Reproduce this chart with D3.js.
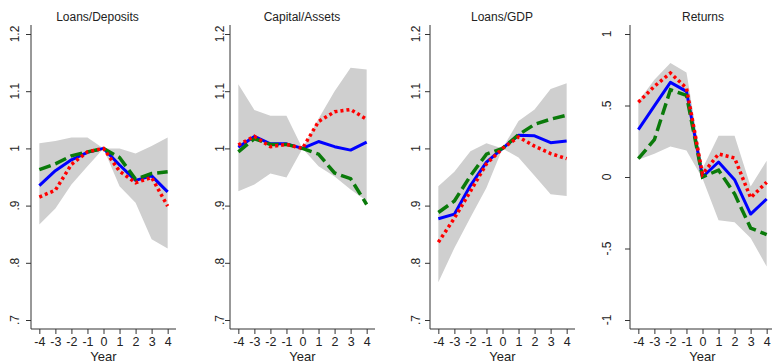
<!DOCTYPE html>
<html>
<head>
<meta charset="utf-8">
<script src="https://cdn.jsdelivr.net/npm/d3@7"></script>
<style>
  html, body { margin: 0; padding: 0; background: #fff; }
  svg { display: block; font-family: "Liberation Sans", Arial, sans-serif; }
</style>
</head>
<body>
<svg id="chart" width="772" height="364"></svg>
<script>
// Event-time years
const years = [-4, -3, -2, -1, 0, 1, 2, 3, 4];

// Panel titles and y tick labels
const titles = ["Loans/Deposits", "Capital/Assets", "Loans/GDP", "Returns"];
const ratioTicks = [0.7, 0.8, 0.9, 1.0, 1.1, 1.2];
const ratioTickLabels = [".7", ".8", ".9", "1", "1.1", "1.2"];
const returnTicks = [-1, -0.5, 0, 0.5, 1];
const returnTickLabels = ["-1", "-.5", "0", ".5", "1"];

// Loans/Deposits
const ldSolid  = [0.935, 0.961, 0.980, 0.993, 1.000, 0.971, 0.944, 0.952, 0.924];
const ldDash   = [0.963, 0.973, 0.987, 0.994, 1.000, 0.984, 0.946, 0.956, 0.959];
const ldDot    = [0.915, 0.927, 0.972, 0.994, 1.000, 0.960, 0.940, 0.949, 0.899];
const ldUpper  = [1.009, 1.013, 1.019, 1.019, 1.000, 1.000, 0.991, 1.004, 1.019];
const ldLower  = [0.867, 0.895, 0.937, 0.969, 1.000, 0.934, 0.905, 0.841, 0.825];

// Capital/Assets
const caSolid  = [1.002, 1.021, 1.008, 1.008, 1.000, 1.012, 1.003, 0.997, 1.011];
const caDash   = [0.994, 1.017, 1.007, 1.007, 1.000, 0.990, 0.957, 0.947, 0.902];
const caDot    = [1.006, 1.021, 1.003, 1.007, 1.000, 1.047, 1.064, 1.068, 1.051];
const caUpper  = [1.112, 1.067, 1.057, 1.057, 1.000, 1.052, 1.100, 1.141, 1.138];
const caLower  = [0.925, 0.937, 0.956, 0.949, 1.000, 0.969, 0.951, 0.928, 0.908];

// Loans/GDP
const lgSolid  = [0.877, 0.885, 0.935, 0.976, 1.000, 1.023, 1.022, 1.010, 1.013];
const lgDash   = [0.888, 0.908, 0.952, 0.990, 1.000, 1.024, 1.042, 1.051, 1.058];
const lgDot    = [0.836, 0.878, 0.925, 0.973, 1.000, 1.020, 1.004, 0.991, 0.982];
const lgUpper  = [0.934, 0.959, 0.995, 1.009, 1.000, 1.048, 1.068, 1.104, 1.114];
const lgLower  = [0.766, 0.826, 0.879, 0.931, 1.000, 0.984, 0.952, 0.920, 0.917];

// Returns
const rtSolid  = [0.331, 0.497, 0.662, 0.599, 0.000, 0.105, -0.019, -0.259, -0.154];
const rtDash   = [0.128, 0.261, 0.610, 0.571, 0.000, 0.048, -0.118, -0.357, -0.403];
const rtDot    = [0.523, 0.634, 0.727, 0.622, 0.020, 0.161, 0.133, -0.145, -0.036];
const rtUpper  = [0.530, 0.680, 0.797, 0.731, 0.060, 0.289, 0.289, -0.066, 0.114];
const rtLower  = [0.121, 0.163, 0.214, 0.186, -0.010, -0.303, -0.317, -0.427, -0.625];

const panelsData = [
  { title: titles[0], solid: ldSolid, dash: ldDash, dot: ldDot, upper: ldUpper, lower: ldLower,
    ticks: ratioTicks, tickLabels: ratioTickLabels, domain: [0.7, 1.2] },
  { title: titles[1], solid: caSolid, dash: caDash, dot: caDot, upper: caUpper, lower: caLower,
    ticks: ratioTicks, tickLabels: ratioTickLabels, domain: [0.7, 1.2] },
  { title: titles[2], solid: lgSolid, dash: lgDash, dot: lgDot, upper: lgUpper, lower: lgLower,
    ticks: ratioTicks, tickLabels: ratioTickLabels, domain: [0.7, 1.2] },
  { title: titles[3], solid: rtSolid, dash: rtDash, dot: rtDot, upper: rtUpper, lower: rtLower,
    ticks: returnTicks, tickLabels: returnTickLabels, domain: [-1, 1] }
];

// Layout of the four side-by-side panels
const layout = [
  { axisX: 31,  titleX: 97.5, labelX: 19 },
  { axisX: 230, titleX: 302,  labelX: 223.5 },
  { axisX: 430, titleX: 502,  labelX: 419.5 },
  { axisX: 630, titleX: 703,  labelX: 611 }
];
const plotWidth = 145;
const yTop = 34, yBottom = 320, axisTop = 25, axisBottom = 329;
const xPad = 0.52;

const svg = d3.select("#chart");
const axisColor = "#333";

panelsData.forEach((p, i) => {
  const L = layout[i];
  const g = svg.append("g");

  const x = d3.scaleLinear().domain([-4 - xPad, 4 + xPad]).range([L.axisX, L.axisX + plotWidth]);
  const y = d3.scaleLinear().domain(p.domain).range([yBottom, yTop]);

  // confidence band
  const area = d3.area()
    .x((d, j) => x(years[j]))
    .y0((d, j) => y(p.lower[j]))
    .y1((d, j) => y(p.upper[j]));
  g.append("path").datum(years).attr("d", area).attr("fill", "#cfcfcf");

  const line = arr => d3.line().x((d, j) => x(years[j])).y((d, j) => y(arr[j]))(years);

  g.append("path").attr("d", line(p.solid))
    .attr("fill", "none").attr("stroke", "#0000ff").attr("stroke-width", 3)
    .attr("stroke-linejoin", "round");
  g.append("path").attr("d", line(p.dash))
    .attr("fill", "none").attr("stroke", "#0a7a0a").attr("stroke-width", 3.5)
    .attr("stroke-dasharray", "12 5");
  g.append("path").attr("d", line(p.dot))
    .attr("fill", "none").attr("stroke", "#ff0000").attr("stroke-width", 3.5)
    .attr("stroke-dasharray", "3 3");

  // y axis
  const yAxis = d3.axisLeft(y).tickValues(p.ticks).tickSize(5)
    .tickFormat((d, j) => p.tickLabels[j]);
  const ya = g.append("g").attr("transform", `translate(${L.axisX},0)`).call(yAxis);
  ya.select(".domain").attr("d", `M0,${axisTop}V${axisBottom}`).attr("stroke", axisColor);
  ya.selectAll(".tick line").attr("stroke", axisColor);
  ya.selectAll(".tick text").remove();
  p.ticks.forEach((t, j) => {
    g.append("text")
      .attr("transform", `translate(${L.labelX},${y(t)}) rotate(-90)`)
      .attr("text-anchor", "middle")
      .attr("font-size", 12).attr("fill", "#222")
      .text(p.tickLabels[j]);
  });

  // x axis
  const xAxis = d3.axisBottom(x).tickValues(years).tickSize(5).tickPadding(3)
    .tickFormat(d3.format("d"));
  const xa = g.append("g").attr("transform", `translate(0,${axisBottom})`).call(xAxis);
  xa.select(".domain").attr("d", `M${L.axisX},0H${L.axisX + plotWidth}`).attr("stroke", axisColor);
  xa.selectAll(".tick line").attr("stroke", axisColor);
  xa.selectAll(".tick text").attr("font-size", 12.5).attr("fill", "#222")
    .attr("font-family", "'Liberation Sans', Arial, sans-serif")
    .text(d => d < 0 ? "-" + Math.abs(d) : String(d));

  g.append("text")
    .attr("x", x(0)).attr("y", 361)
    .attr("text-anchor", "middle").attr("font-size", 13).attr("fill", "#222")
    .text("Year");

  g.append("text")
    .attr("x", L.titleX).attr("y", 20.5)
    .attr("text-anchor", "middle").attr("font-size", 12).attr("fill", "#222")
    .text(p.title);
});
</script>
</body>
</html>
